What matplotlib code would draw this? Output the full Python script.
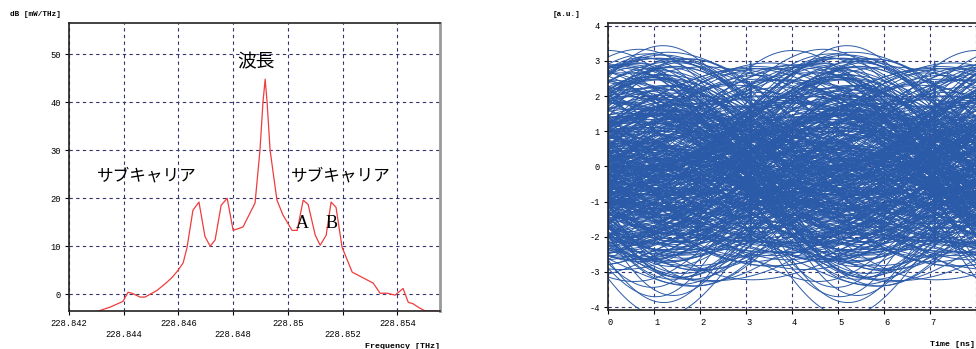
import matplotlib
matplotlib.use("Agg")
import matplotlib.pyplot as plt
import numpy as np
from matplotlib.transforms import ScaledTranslation

# spectrum (left)
freq = [228.84302, 228.8435, 228.84397, 228.84416, 228.8443, 228.8446, 228.84478,
        228.84522, 228.84558, 228.84577, 228.84599, 228.84617, 228.84631, 228.84653,
        228.84675, 228.84697, 228.84716, 228.84734, 228.84756, 228.84778, 228.848,
        228.84836, 228.8488, 228.84898, 228.84909, 228.84917, 228.84924, 228.84935,
        228.8496, 228.84982, 228.85015, 228.85034, 228.85056, 228.85074, 228.851,
        228.85118, 228.8514, 228.85158, 228.85176, 228.85198, 228.85235, 228.85312,
        228.85337, 228.85363, 228.85392, 228.85421, 228.8544, 228.85458, 228.85476,
        228.85502, 228.85546]
power = [-3.6, -2.7, -1.5, 0.4, 0.2, -0.6, -0.6,
         0.8, 2.5, 3.5, 5.0, 6.5, 9.6, 17.5,
         19.2, 12.0, 10.0, 11.3, 18.5, 20.0, 13.3,
         14.0, 19.0, 30.0, 40.0, 44.8, 40.0, 30.0,
         19.6, 16.5, 13.3, 13.3, 19.6, 18.7, 12.3,
         10.2, 12.3, 19.2, 18.1, 9.8, 4.6, 2.3,
         0.2, 0.2, -0.2, 1.2, -1.7, -2.0, -2.7,
         -3.5, -3.5]
freq_ticks = [228.842, 228.844, 228.846, 228.848, 228.85, 228.852, 228.854]
freq_labels = ["228.842", "\n228.844", "228.846", "\n228.848", "228.85", "\n228.852", "228.854"]
db_ticks = [0, 10, 20, 30, 40, 50]

# eye diagram (right): hand typed symbol sequences of the components
sym_a = ("3152460314256036241053216405132604512360"
         "2416035142630512436201534623104526310452"
         "5031426350124635201436250314625103426153"
         "1463025314602531462035124630153264051326")
sym_b = ("2130421340231420413204123401243021342031"
         "4102341203421023140324120341230412031420"
         "0342130241302413204123041320413021430124"
         "3120413024132041230412301423041320142301")
sym_c = ("1111011112111110111121111101111211111011"
         "1121111101111121111011111211110111112111"
         "1011111211110111112111110111121111101111"
         "1211110111112111101111121111101111211110")
level_a = [-2.3, -1.5, -0.7, 0.0, 0.7, 1.5, 2.3]
level_b = [-0.9, -0.45, 0.0, 0.45, 0.9]
level_c = [-1.15, 0.0, 1.15]
b_shifts = [0, 13, 29]
time_ticks = [0, 1, 2, 3, 4, 5, 6, 7]
au_ticks = [-4, -3, -2, -1, 0, 1, 2, 3, 4]

mono = "Liberation Mono"
grid_kw = dict(color="#33336e", lw=0.8, ls=(0, (3, 3)))

fig = plt.figure(figsize=(9.76, 3.49), dpi=100)

# ---------- left: spectrum ----------
ax = fig.add_axes([69 / 976, 1 - 311 / 349, 371 / 976, 288 / 349])
ax.plot(freq, power, color="#f03c3c", lw=0.9)
ax.set_xlim(228.842, 228.85556)
ax.set_ylim(-3.5, 56.5)
ax.set_xticks(freq_ticks)
ax.set_xticklabels(freq_labels, fontfamily=mono, fontsize=6.3)
ax.set_yticks(db_ticks)
ax.set_yticklabels([str(v) for v in db_ticks], fontfamily=mono, fontsize=6.3)
ax.tick_params(length=3, width=0.8, pad=3)
ax.grid(True, **grid_kw)
ax.set_axisbelow(True)
for s in ["top", "left", "bottom"]:
    ax.spines[s].set_color("#222222")
    ax.spines[s].set_linewidth(1.2)
ax.spines["right"].set_color("#9a9a9a")
ax.spines["right"].set_linewidth(2)

cjk = ["Noto Sans CJK JP", "DejaVu Sans"]
ax.text(228.84884, 48.5, "波長", family=cjk, fontsize=13.5, ha="center", va="center")
ax.text(228.84483, 24.6, "サブキャリア", family=cjk, fontsize=12, ha="center", va="center")
ax.text(228.85195, 24.6, "サブキャリア", family=cjk, fontsize=12, ha="center", va="center")
ax.text(228.85054, 14.8, "A", family="Liberation Serif", fontsize=13, ha="center", va="center")
ax.text(228.85158, 14.8, "B", family="Liberation Serif", fontsize=13, ha="center", va="center")

fig.text(10 / 976, 1 - 15 / 349, "dB [mW/THz]", fontfamily=mono, fontsize=5.5,
         ha="left", va="center", fontweight="bold")
fig.text(440 / 976, 1 - 346 / 349, "Frequency [THz]", fontfamily=mono, fontsize=6,
         ha="right", va="center", fontweight="bold")

# ---------- right: eye diagram ----------
T = 4.0
dt = 0.02


def rc(t, period, beta=0.6):
    x = t / period
    den = 1 - (2 * beta * x) ** 2
    den = np.where(np.abs(den) < 1e-6, 1e-6, den)
    return np.sinc(x) * np.cos(np.pi * beta * x) / den


lev_a = np.array([level_a[int(c)] for c in sym_a])
lev_b = np.array([level_b[int(c)] for c in sym_b])
lev_c = np.array([level_c[int(c)] for c in sym_c])
n = min(len(lev_a), len(lev_b), len(lev_c))
tt = np.arange(0, n * T, dt)

# pulse shapes evaluated once per symbol slot
base_a = np.zeros((n, len(tt)))
base_b = np.zeros((n, len(tt)))
base_c = np.zeros((n, len(tt)))
for k in range(n):
    base_a[k] = rc(tt - (1.0 + k * T), T)
    base_b[k] = rc(tt - (2.3 + k * T), T)
    base_c[k] = rc(tt - (1.1 + k * T), T * 0.6)

ax2 = fig.add_axes([608 / 976, 1 - 310 / 349, 460 / 976, 287 / 349])
win = int(round(10 / dt))
step = int(round(T / dt))
for sh in b_shifts:
    sig = lev_a @ base_a + np.roll(lev_b, sh) @ base_b + np.roll(lev_c, 2 * sh) @ base_c
    for s in range(3 * step, len(tt) - win - 3 * step, step):
        ax2.plot(tt[s:s + win] - tt[s], sig[s:s + win], color="#2a5aa8", lw=0.7)
ax2.set_xlim(0, 10)
ax2.set_ylim(-4.085, 4.077)
ax2.set_xticks(time_ticks)
ax2.set_xticklabels([str(v) for v in time_ticks], fontfamily=mono, fontsize=6.3)
for lab in ax2.get_xticklabels():
    lab.set_horizontalalignment("left")
    lab.set_transform(lab.get_transform() + ScaledTranslation(2 / 100, 0, fig.dpi_scale_trans))
ax2.set_xticks([8, 9], minor=True)
ax2.tick_params(which="minor", length=3, width=0.8)
ax2.set_yticks(au_ticks)
ax2.set_yticklabels([str(v) for v in au_ticks], fontfamily=mono, fontsize=6.3)
ax2.tick_params(length=3, width=0.8, pad=3)
ax2.grid(True, which="both", **grid_kw)
ax2.set_axisbelow(True)
for s in ax2.spines.values():
    s.set_color("#222222")
    s.set_linewidth(1.2)

fig.text(553 / 976, 1 - 14 / 349, "[a.u.]", fontfamily=mono, fontsize=5.5,
         ha="left", va="center", fontweight="bold")
fig.text(930 / 976, 1 - 345 / 349, "Time [ns]", fontfamily=mono, fontsize=6,
         ha="left", va="center", fontweight="bold")

fig.savefig("out.png", dpi=100)
